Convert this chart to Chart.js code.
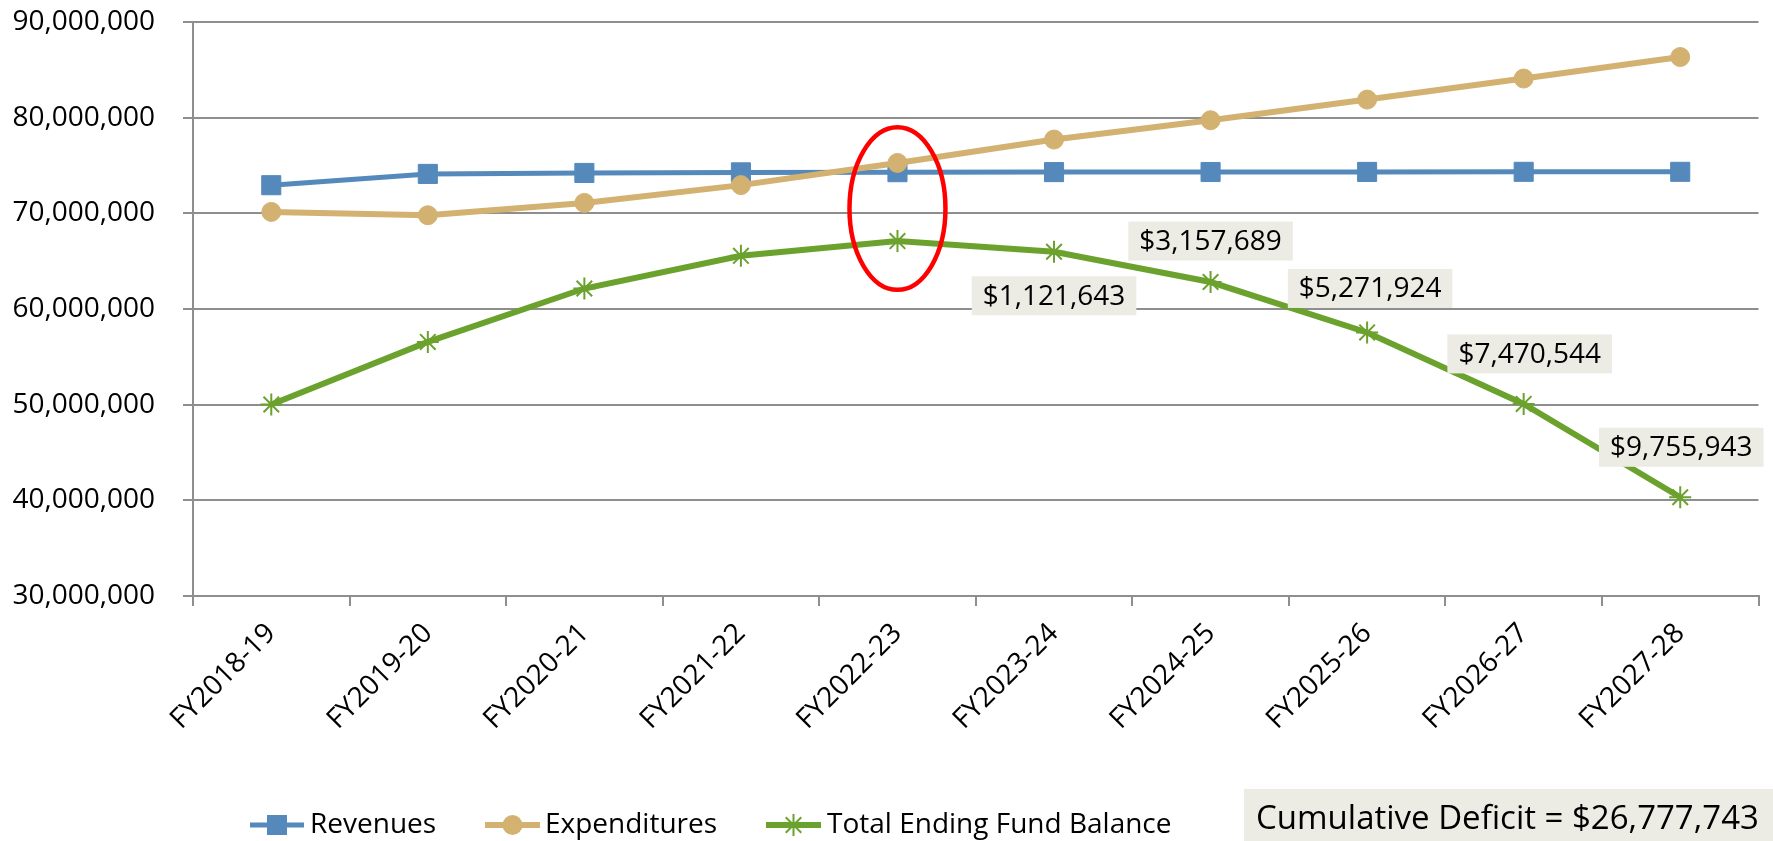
<!DOCTYPE html>
<html>
<head>
<meta charset="utf-8">
<script src="https://cdn.jsdelivr.net/npm/chart.js@4.4.1/dist/chart.umd.min.js"></script>
<style>
html,body{margin:0;padding:0;background:#fff;}
#wrap{width:1773px;height:841px;position:relative;}
</style>
</head>
<body>
<div id="wrap"><canvas id="c" width="1773" height="841"></canvas></div>
<script>
// ---- data ----
const categories = ['FY2018-19','FY2019-20','FY2020-21','FY2021-22','FY2022-23','FY2023-24','FY2024-25','FY2025-26','FY2026-27','FY2027-28'];
const seriesNames = ['Revenues','Expenditures','Total Ending Fund Balance'];
const revenues     = [72940000, 74120000, 74220000, 74280000, 74300000, 74310000, 74320000, 74330000, 74340000, 74340000];
const expenditures = [70150000, 69800000, 71090000, 72950000, 75270000, 77710000, 79730000, 81890000, 84090000, 86340000];
const fundBalance  = [50020000, 56560000, 62140000, 65560000, 67100000, 65980000, 62820000, 57550000, 50080000, 40320000];
const yMin = 30000000, yMax = 90000000, yStep = 10000000;
const deficitCategories = ['FY2023-24','FY2024-25','FY2025-26','FY2026-27','FY2027-28'];
const deficitLabels = ['$1,121,643','$3,157,689','$5,271,924','$7,470,544','$9,755,943'];
const cumulativeDeficitText = 'Cumulative Deficit = $26,777,743';
const highlightCategory = 'FY2022-23';
const highlightTop = 79000000, highlightBottom = 62000000;

// ---- styles ----
const FONT = 'Open Sans';
const FS = 28;
const blue = '#5589BC', tan = '#D3B171', green = '#6BA22E';
const gridColor = '#8E8E8E';
const labelBg = '#ECECE4';
// label offsets (px) relative to data point
const labelOffsets = [[0,44],[0,-41],[3,-44],[6,-50],[1,-50]];

const overlay = {
  id: 'overlay',
  afterDatasetsDraw(chart) {
    const ctx = chart.ctx, x = chart.scales.x, y = chart.scales.y;
    const cx = x.getPixelForValue(categories.indexOf(highlightCategory));
    const yt = y.getPixelForValue(highlightTop), yb = y.getPixelForValue(highlightBottom);
    ctx.save();
    ctx.beginPath();
    ctx.ellipse(cx, (yt + yb) / 2, 48, (yb - yt) / 2, 0, 0, Math.PI * 2);
    ctx.strokeStyle = '#FF0000';
    ctx.lineWidth = 4.5;
    ctx.stroke();
    ctx.restore();
  },
  afterDraw(chart) {
    const ctx = chart.ctx, x = chart.scales.x, y = chart.scales.y;
    ctx.save();
    // data labels
    ctx.font = FS + 'px "' + FONT + '"';
    ctx.textBaseline = 'middle';
    ctx.textAlign = 'center';
    deficitCategories.forEach((cat, i) => {
      const idx = categories.indexOf(cat);
      const px = x.getPixelForValue(idx), py = y.getPixelForValue(fundBalance[idx]);
      const cx = px + labelOffsets[i][0], cy = py + labelOffsets[i][1];
      const w = ctx.measureText(deficitLabels[i]).width + 22, h = 39;
      ctx.fillStyle = labelBg;
      ctx.fillRect(cx - w / 2, cy - h / 2, w, h);
      ctx.fillStyle = '#000';
      ctx.fillText(deficitLabels[i], cx, cy + 1);
    });
    // legend
    const items = [
      {x0: 250, x1: 304, tx: 310, color: blue, lw: 5, style: 'rect'},
      {x0: 485, x1: 540, tx: 545, color: tan, lw: 6, style: 'circle'},
      {x0: 766, x1: 821, tx: 827, color: green, lw: 6, style: 'star'}
    ];
    const ly = 825;
    items.forEach((it, i) => {
      ctx.strokeStyle = it.color; ctx.fillStyle = it.color;
      ctx.lineWidth = it.lw;
      ctx.beginPath(); ctx.moveTo(it.x0, ly); ctx.lineTo(it.x1, ly); ctx.stroke();
      const mx = (it.x0 + it.x1) / 2;
      if (it.style === 'rect') { ctx.fillRect(mx - 10, ly - 10, 20, 20); }
      else if (it.style === 'circle') { ctx.beginPath(); ctx.arc(mx, ly, 10, 0, Math.PI * 2); ctx.fill(); }
      else {
        ctx.lineWidth = 2; ctx.beginPath();
        for (let a = 0; a < 4; a++) {
          const ang = a * Math.PI / 4;
          ctx.moveTo(mx - 11 * Math.sin(ang), ly - 11 * Math.cos(ang));
          ctx.lineTo(mx + 11 * Math.sin(ang), ly + 11 * Math.cos(ang));
        }
        ctx.stroke();
      }
      ctx.fillStyle = '#000';
      ctx.textAlign = 'left';
      ctx.font = FS + 'px "' + FONT + '"';
      ctx.fillText(seriesNames[i], it.tx, ly);
    });
    // cumulative deficit box
    ctx.fillStyle = labelBg;
    ctx.fillRect(1244, 789, 1773 - 1244, 52);
    ctx.fillStyle = '#000';
    ctx.font = '33px "' + FONT + '"';
    ctx.textAlign = 'left';
    ctx.fillText(cumulativeDeficitText, 1256, 820);
    ctx.restore();
  }
};

new Chart(document.getElementById('c'), {
  type: 'line',
  data: {
    labels: categories,
    datasets: [
      {label: seriesNames[0], data: revenues, borderColor: blue, backgroundColor: blue, borderWidth: 5,
       pointStyle: 'rect', pointRadius: 13.5, pointBorderWidth: 1, pointBorderColor: blue, pointBackgroundColor: blue, order: 3, tension: 0},
      {label: seriesNames[1], data: expenditures, borderColor: tan, backgroundColor: tan, borderWidth: 6,
       pointStyle: 'circle', pointRadius: 9.5, pointBorderWidth: 1, pointBorderColor: tan, pointBackgroundColor: tan, order: 2, tension: 0},
      {label: seriesNames[2], data: fundBalance, borderColor: green, backgroundColor: green, borderWidth: 6,
       pointStyle: 'star', pointRadius: 11, pointBorderWidth: 2, pointBorderColor: green, pointBackgroundColor: green, order: 1, tension: 0}
    ]
  },
  options: {
    responsive: false,
    animation: false,
    events: [],
    layout: {padding: {top: 22, right: 8, left: 0, bottom: 0}},
    plugins: {legend: {display: false}, tooltip: {enabled: false}},
    scales: {
      x: {
        offset: true,
        grid: {offset: true, drawOnChartArea: false, drawTicks: true, tickLength: 10, color: gridColor, lineWidth: 2},
        border: {display: true, color: gridColor, width: 2},
        ticks: {maxRotation: 45, minRotation: 45, autoSkip: false, padding: 11, color: '#000', font: {family: FONT, size: FS}},
        afterFit(s) { s.height = 245; }
      },
      y: {
        min: yMin, max: yMax,
        grid: {color: gridColor, lineWidth: 2, tickLength: 10},
        border: {color: gridColor, width: 2},
        ticks: {stepSize: yStep, padding: 28, color: '#000', font: {family: FONT, size: FS},
                callback: v => v.toLocaleString('en-US')},
        afterFit(s) { s.width = 193; s.paddingTop = 0; s.paddingBottom = 0; }
      }
    }
  },
  plugins: [overlay]
});
</script>
</body>
</html>
